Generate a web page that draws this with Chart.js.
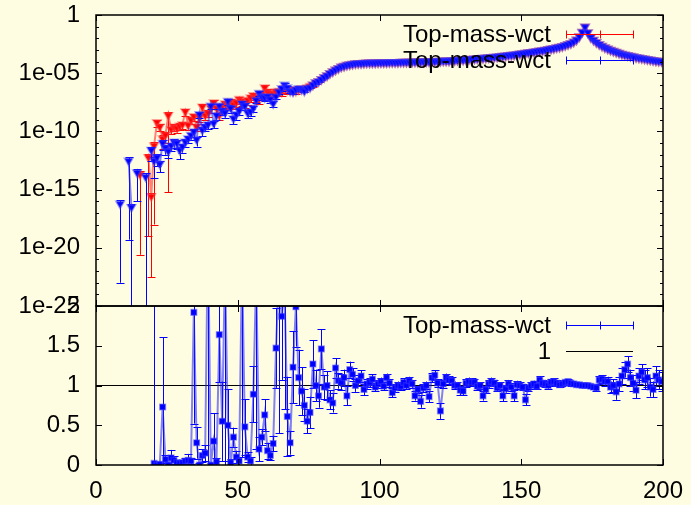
<!DOCTYPE html>
<html>
<head>
<meta charset="utf-8">
<title>Top-mass-wct</title>
<script src="https://cdn.jsdelivr.net/npm/chart.js@4.4.1/dist/chart.umd.min.js"></script>
<style>
  html, body { margin: 0; padding: 0; background: #fffde1; }
  canvas { display: block; }
</style>
</head>
<body>
<canvas id="massChart" width="691" height="505"></canvas>
<script>
// --- values ---
// bin centres (1 GeV bins)
const massX = [
  8.5, 9.5, 10.5, 11.5, 12.5, 13.5, 14.5, 15.5, 16.5, 17.5,
  18.5, 19.5, 20.5, 21.5, 22.5, 23.5, 24.5, 25.5, 26.5, 27.5,
  28.5, 29.5, 30.5, 31.5, 32.5, 33.5, 34.5, 35.5, 36.5, 37.5,
  38.5, 39.5, 40.5, 41.5, 42.5, 43.5, 44.5, 45.5, 46.5, 47.5,
  48.5, 49.5, 50.5, 51.5, 52.5, 53.5, 54.5, 55.5, 56.5, 57.5,
  58.5, 59.5, 60.5, 61.5, 62.5, 63.5, 64.5, 65.5, 66.5, 67.5,
  68.5, 69.5, 70.5, 71.5, 72.5, 73.5, 74.5, 75.5, 76.5, 77.5,
  78.5, 79.5, 80.5,
  81.5, 82.5, 83.5, 84.5, 85.5, 86.5, 87.5, 88.5, 89.5, 90.5,
  91.5, 92.5, 93.5, 94.5, 95.5, 96.5, 97.5, 98.5, 99.5, 100.5,
  101.5, 102.5, 103.5, 104.5, 105.5, 106.5, 107.5, 108.5, 109.5, 110.5,
  111.5, 112.5, 113.5, 114.5, 115.5, 116.5, 117.5, 118.5, 119.5, 120.5,
  121.5, 122.5, 123.5, 124.5, 125.5, 126.5, 127.5, 128.5, 129.5, 130.5,
  131.5, 132.5, 133.5, 134.5, 135.5, 136.5, 137.5, 138.5, 139.5, 140.5,
  141.5, 142.5, 143.5, 144.5, 145.5, 146.5, 147.5, 148.5, 149.5, 150.5,
  151.5, 152.5, 153.5, 154.5, 155.5, 156.5, 157.5, 158.5, 159.5, 160.5,
  161.5, 162.5, 163.5, 164.5, 165.5, 166.5, 167.5, 168.5, 169.5, 170.5,
  171.5, 172.5, 173.5, 174.5, 175.5, 176.5, 177.5, 178.5, 179.5, 180.5,
  181.5, 182.5, 183.5, 184.5, 185.5, 186.5, 187.5, 188.5, 189.5, 190.5,
  191.5, 192.5, 193.5, 194.5, 195.5, 196.5, 197.5, 198.5, 199.5
];

// top panel, blue series
const blueTop = [
  6e-17, null, null, 3e-13, 3e-17, null, 3e-14, null, null, 1.3e-14,
  null, 2.5e-12, 3e-13, 6e-13, 1.6e-13, 1e-11, 4e-12, 2e-12, 6e-12, 1.3e-11,
  1e-11, 2.5e-12, 5e-12, 1.3e-11, 2.5e-11, 5e-11, 1e-10, 2e-11, 3e-9, 1.3e-10,
  2.5e-10, 4e-10, 1.6e-8, 5e-10, 2.5e-9, 1.6e-8, 6e-9, 4e-9, 4e-8, 1e-8,
  1.3e-9, 3e-9, 6e-9, 2.5e-8, 1.6e-8, 4e-9, 5e-9, 1e-8, 5e-8, 2e-7,
  1e-7, 8e-8, 1e-7, 6e-8, 2.5e-8, 1e-7, 2.5e-7, 5e-7, 1e-6, 6e-7,
  3e-7, 2.5e-7, 4e-7, 5e-7, 4e-7, 3e-7, 5e-7, 6e-7, 1e-6, 1.6e-6,
  2e-6, 3e-6, 4.5e-6,
  6.5e-6, 1e-5, 1.4e-5, 2e-5, 2.7e-5, 3.5e-5, 4.2e-5, 5e-5, 5.7e-5, 6.3e-5,
  6.7e-5, 7e-5, 7.3e-5, 7.6e-5, 7.8e-5, 7.9e-5, 8e-5, 8.1e-5, 8.2e-5, 8.3e-5,
  8.4e-5, 8.5e-5, 8.6e-5, 8.7e-5, 8.8e-5, 8.9e-5, 9e-5, 9.1e-5, 9.2e-5, 9.3e-5,
  9.4e-5, 9.5e-5, 9.65e-5, 9.8e-5, 9.9e-5, 1e-4, 1.02e-4, 1.05e-4, 1.07e-4, 1.1e-4,
  1.12e-4, 1.15e-4, 1.17e-4, 1.2e-4, 1.25e-4, 1.3e-4, 1.35e-4, 1.4e-4, 1.45e-4, 1.5e-4,
  1.57e-4, 1.65e-4, 1.72e-4, 1.8e-4, 1.9e-4, 2e-4, 2.1e-4, 2.2e-4, 2.35e-4, 2.5e-4,
  2.65e-4, 2.8e-4, 3e-4, 3.2e-4, 3.4e-4, 3.6e-4, 3.9e-4, 4.3e-4, 4.6e-4, 5e-4,
  5.4e-4, 5.9e-4, 6.4e-4, 6.9e-4, 7.6e-4, 8.3e-4, 9.1e-4, 1e-3, 1.12e-3, 1.26e-3,
  1.42e-3, 1.6e-3, 1.82e-3, 2.1e-3, 2.5e-3, 3e-3, 3.8e-3, 5e-3, 7.5e-3, 1.4e-2,
  3.5e-2, 0.1, 3.2e-2, 1.25e-2, 7e-3, 4.5e-3, 3e-3, 2.2e-3, 1.6e-3, 1.26e-3,
  1e-3, 8e-4, 6.5e-4, 5.4e-4, 4.5e-4, 3.8e-4, 3.4e-4, 3e-4, 2.7e-4, 2.4e-4,
  2.15e-4, 1.9e-4, 1.75e-4, 1.6e-4, 1.45e-4, 1.3e-4, 1.2e-4, 1.1e-4, 1.05e-4
];
// lower ends of the blue error bars (only where they show, up to 80.5)
const blueLow = [
  1e-23, null, null, 5e-20, 1e-30, null, 1e-16, null, null, 1e-30,
  null, 3e-13, 1e-14, 1e-13, 3e-14, 2.5e-12, 1e-12, 5e-13, 2e-12, 4e-12,
  3e-12, 4e-13, 1.5e-12, 5e-12, 1e-11, 2e-11, 3e-11, 5e-12, 1.5e-9, 4e-11,
  1e-10, 1.5e-10, 8e-9, 2e-10, 1e-9, 8e-9, 2.5e-9, 1.5e-9, 2e-8, 4e-9,
  4e-10, 1e-9, 2.5e-9, 1.2e-8, 7e-9, 1.5e-9, 2e-9, 5e-9, 2.5e-8, 1e-7,
  5e-8, 4e-8, 5e-8, 3e-8, 1.2e-8, 6e-8, 1.5e-7, 3e-7, 6e-7, 4e-7,
  2e-7, 1.6e-7, 2.8e-7, 3.5e-7, 3e-7, 2.2e-7, 4e-7, 5e-7, 8e-7, 1.3e-6,
  1.7e-6, 2.6e-6, 4e-6
];

// top panel, red series
const redTop = [
  null, null, null, null, null, null, null, 2e-14, null, null,
  6e-13, 2.5e-16, 6e-12, 6e-10, 2.5e-10, 2.5e-11, 5e-11, 2.5e-9, 1.6e-10, 2.5e-10,
  2e-10, 3e-10, 4e-10, 5e-9, 3.5e-10, 1e-9, 2e-9, 2.5e-10, 1.6e-9, 1.3e-8,
  2.5e-9, 4e-9, 1e-8, 3e-8, 1e-8, 2.5e-9, 1.3e-8, 2.5e-8, 2e-8, 3.5e-8,
  2e-8, 3e-8, 6e-8, 4e-8, 2.5e-8, 5e-8, 8e-8, 1.3e-7, 8e-8, 6e-8,
  1.6e-7, 6e-7, 2.5e-7, 2e-7, 1.6e-7, 2.5e-7, 3e-7, 2.5e-7, 5e-7, 4e-7,
  4e-7, 3e-7, 3e-7, 4e-7, 5e-7, 4e-7, 6e-7, 8e-7, 1e-6, 1.6e-6,
  2e-6, 3e-6, 4.5e-6,
  6.5e-6, 1e-5, 1.4e-5, 2e-5, 2.7e-5, 3.5e-5, 4.2e-5, 5e-5, 5.7e-5, 6.3e-5,
  6.7e-5, 7e-5, 7.3e-5, 7.6e-5, 7.8e-5, 7.9e-5, 8e-5, 8.1e-5, 8.2e-5, 8.3e-5,
  8.4e-5, 8.5e-5, 8.6e-5, 8.7e-5, 8.8e-5, 8.9e-5, 9e-5, 9.1e-5, 9.2e-5, 9.3e-5,
  9.4e-5, 9.5e-5, 9.65e-5, 9.8e-5, 9.9e-5, 1e-4, 1.02e-4, 1.05e-4, 1.07e-4, 1.1e-4,
  1.12e-4, 1.15e-4, 1.17e-4, 1.2e-4, 1.25e-4, 1.3e-4, 1.35e-4, 1.4e-4, 1.45e-4, 1.5e-4,
  1.57e-4, 1.65e-4, 1.72e-4, 1.8e-4, 1.9e-4, 2e-4, 2.1e-4, 2.2e-4, 2.35e-4, 2.5e-4,
  2.65e-4, 2.8e-4, 3e-4, 3.2e-4, 3.4e-4, 3.6e-4, 3.9e-4, 4.3e-4, 4.6e-4, 5e-4,
  5.4e-4, 5.9e-4, 6.4e-4, 6.9e-4, 7.6e-4, 8.3e-4, 9.1e-4, 1e-3, 1.12e-3, 1.26e-3,
  1.42e-3, 1.6e-3, 1.82e-3, 2.1e-3, 2.5e-3, 3e-3, 3.8e-3, 5e-3, 7.5e-3, 1.4e-2,
  3.5e-2, 0.1, 3.2e-2, 1.25e-2, 7e-3, 4.5e-3, 3e-3, 2.2e-3, 1.6e-3, 1.26e-3,
  1e-3, 8e-4, 6.5e-4, 5.4e-4, 4.5e-4, 3.8e-4, 3.4e-4, 3e-4, 2.7e-4, 2.4e-4,
  2.15e-4, 1.9e-4, 1.75e-4, 1.6e-4, 1.45e-4, 1.3e-4, 1.2e-4, 1.1e-4, 1.05e-4
];
const redLow = [
  null, null, null, null, null, null, null, 2.5e-21, null, null,
  1e-19, 3e-23, 1e-18, 2.5e-10, 1e-10, 3e-12, 1e-11, 6e-16, 6e-11, 1e-10,
  8e-11, 1.2e-10, 1.6e-10, 2e-9, 1.4e-10, 4e-10, 8e-10, 1e-10, 6e-10, 5e-9,
  1e-9, 1.6e-9, 4e-9, 1.2e-8, 4e-9, 1e-9, 5e-9, 1e-8, 8e-9, 1.4e-8,
  8e-9, 1.2e-8, 2.4e-8, 1.6e-8, 1e-8, 2e-8, 3.2e-8, 5e-8, 3.2e-8, 2.4e-8,
  6e-8, 2.4e-7, 1e-7, 8e-8, 6e-8, 1e-7, 1.2e-7, 1e-7, 2e-7, 1.6e-7,
  2e-7, 1.5e-7, 1.5e-7, 2.4e-7, 3e-7, 2.4e-7, 4e-7, 5.5e-7, 7e-7, 1.2e-6,
  1.6e-6, 2.5e-6, 4e-6
];

// bottom panel, ratio and its error
const ratioVals = [
  null, null, null, null, null, null, null, null, null, null,
  null, null, 0.02, 0.0, 0.01, 0.73, 0.07, 0.0, 0.09, 0.06,
  0.03, 0.02, 0.03, 0.05, 0.06, 0.05, 1.92, 0.28, 0.0, 0.12,
  0.15, 3.0, 0.0, 0.3, 0.04, 1.64, 0.55, 2.5, 0.5, 0.03,
  0.35, 0.1, 0.05, 2.6, 0.48, 0.1, 0.05, 0.89, 2.4, 0.2,
  0.35, 0.63, 0.18, 0.12, 0.27, 1.47, 2.4, 1.87, 2.2, 0.61,
  0.28, 1.23, 1.99, 1.1, 0.93, 0.75, 0.55, 0.66, 1.27, 1.0,
  0.87, 1.46, 0.98,
  1.0, 0.82, 0.78, 1.22, 1.06, 1.04, 1.1, 0.87, 1.2, 1.14,
  1.0, 1.06, 1.12, 0.95, 1.02, 1.04, 1.08, 0.98, 1.02, 1.05,
  0.99, 1.1, 1.03, 0.91, 0.97, 1.0, 0.99, 1.04, 1.0, 1.06,
  1.02, 0.87, 0.95, 0.8, 0.97, 1.0, 0.86, 1.1, 1.13, 1.03,
  0.68, 1.02, 1.1, 1.07, 1.06, 1.0, 1.0, 0.94, 0.93, 1.03,
  1.05, 1.04, 1.04, 0.99, 1.0, 0.87, 0.95, 1.02, 1.05, 1.03,
  0.97, 1.0, 0.87, 0.96, 1.02, 0.98, 0.87, 1.01, 1.0, 0.98,
  0.82, 0.97, 1.0, 1.02, 0.99, 1.07, 1.03, 1.02, 1.0, 1.04,
  1.05, 1.03, 1.01, 1.02, 1.04, 1.05, 1.03, 1.02, 1.01, 1.01,
  1.0, 1.0, 1.0, 0.99, 0.98, 0.97, 1.07, 1.08, 1.05, 1.05,
  0.98, 1.0, 0.92, 1.02, 1.12, 1.2, 1.27, 1.1, 1.03, 0.94,
  1.12, 1.17, 1.07, 1.1, 0.98, 0.95, 1.12, 1.07, 1.05
];
const ratioErr = [
  null, null, null, null, null, null, null, null, null, null,
  null, null, 2.5, 0.04, 0.03, 0.88, 0.05, 0.03, 0.1, 0.05,
  0.03, 0.03, 0.03, 0.04, 0.08, 0.04, 1.4, 0.2, 0.03, 0.08,
  0.1, 3.0, 0.03, 0.35, 0.05, 0.6, 0.5, 2.5, 0.45, 0.04,
  0.12, 0.08, 0.05, 2.5, 0.35, 0.06, 0.05, 0.35, 2.2, 0.15,
  0.1, 0.2, 0.1, 0.06, 0.1, 0.5, 2.0, 0.8, 1.5, 0.5,
  0.15, 0.45, 0.5, 0.35, 0.3, 0.2, 0.15, 0.2, 0.3, 0.2,
  0.15, 0.25, 0.15,
  0.18, 0.12, 0.12, 0.12, 0.1, 0.1, 0.1, 0.12, 0.1, 0.08,
  0.08, 0.07, 0.07, 0.07, 0.06, 0.06, 0.06, 0.05, 0.05, 0.05,
  0.05, 0.05, 0.05, 0.06, 0.05, 0.05, 0.05, 0.05, 0.05, 0.05,
  0.05, 0.06, 0.05, 0.08, 0.05, 0.05, 0.07, 0.06, 0.06, 0.05,
  0.1, 0.05, 0.05, 0.05, 0.05, 0.05, 0.04, 0.06, 0.05, 0.05,
  0.05, 0.05, 0.04, 0.05, 0.04, 0.06, 0.05, 0.05, 0.05, 0.04,
  0.04, 0.04, 0.07, 0.05, 0.05, 0.05, 0.07, 0.05, 0.04, 0.04,
  0.07, 0.04, 0.04, 0.04, 0.04, 0.05, 0.04, 0.04, 0.04, 0.04,
  0.04, 0.04, 0.03, 0.03, 0.03, 0.03, 0.03, 0.03, 0.02, 0.02,
  0.02, 0.02, 0.02, 0.02, 0.03, 0.04, 0.05, 0.05, 0.06, 0.06,
  0.07, 0.08, 0.1, 0.09, 0.1, 0.1, 0.1, 0.1, 0.1, 0.1,
  0.1, 0.1, 0.12, 0.12, 0.12, 0.1, 0.12, 0.12, 0.12
];

// reference line "1"
const unityX = [0, 200];
const unityY = [1, 1];

// axes
const massTicks = [0, 50, 100, 150, 200];
const massTickLabels = ['0', '50', '100', '150', '200'];
const topTicks = [1e-25, 1e-20, 1e-15, 1e-10, 1e-5, 1];
const topTickLabels = ['1e-25', '1e-20', '1e-15', '1e-10', '1e-05', '1'];
const ratioTicks = [0, 0.5, 1, 1.5, 2];
const ratioTickLabels = ['0', '0.5', '1', '1.5', '2'];
const seriesName = 'Top-mass-wct';
const unityName = '1';

// --- helpers ---
const FONT = '"Liberation Sans", Arial, sans-serif';

function toPoints(xs, ys) {
  return ys.map((v, i) => ({ x: xs[i], y: v }));
}
// gnuplot style symmetric y errors: upper end mirrors the lower end
function barsFromLow(vals, lows) {
  return vals.map((v, i) => (v == null || lows[i] == null) ? null : [lows[i], 2 * v - lows[i]]);
}
function barsFromErr(vals, errs) {
  return vals.map((v, i) => (v == null || errs[i] == null) ? null : [v - errs[i], v + errs[i]]);
}
function labelFor(ticks, labels, value, isLog) {
  const idx = ticks.findIndex(t => isLog ? Math.abs(Math.log10(t) - Math.log10(value)) < 1e-6 : Math.abs(t - value) < 1e-9);
  return idx >= 0 ? labels[idx] : '';
}
// tick label padding must not shrink the plot area
function fixVertical(s) {
  s.width = 96;
  s.paddingTop = 0;
  s.paddingBottom = 0;
}
function fixHorizontal(s) {
  s.height = 40;
  s.paddingLeft = 0;
  s.paddingRight = 0;
}

// --- clipping per panel + error bars + frame/ticks/keys ---
const panelPlugin = {
  id: 'panelPlugin',
  beforeDatasetDraw(chart, args) {
    const meta = args.meta;
    const xs = meta.xScale, ys = meta.yScale;
    const ctx = chart.ctx;
    ctx.save();
    ctx.beginPath();
    ctx.rect(xs.left, ys.top, xs.right - xs.left, ys.bottom - ys.top);
    ctx.clip();

    const ds = chart.data.datasets[args.index];
    if (!ds.errBars) return;
    ctx.strokeStyle = ds.errColor;
    ctx.lineWidth = 1;
    ds.errBars.forEach((b, i) => {
      if (!b) return;
      const px = Math.round(xs.getPixelForValue(ds.data[i].x)) + 0.5;
      const lo = b[0], hi = b[1];
      let yLo, yHi;
      if (ys.type === 'logarithmic') {
        yLo = lo > 0 ? ys.getPixelForValue(lo) : ys.bottom + 20;
        yHi = ys.getPixelForValue(hi);
      } else {
        yLo = ys.getPixelForValue(lo);
        yHi = ys.getPixelForValue(hi);
      }
      ctx.beginPath();
      ctx.moveTo(px, yLo);
      ctx.lineTo(px, yHi);
      ctx.moveTo(px - 4, Math.round(yLo) + 0.5);
      ctx.lineTo(px + 4, Math.round(yLo) + 0.5);
      ctx.moveTo(px - 4, Math.round(yHi) + 0.5);
      ctx.lineTo(px + 4, Math.round(yHi) + 0.5);
      ctx.stroke();
    });
  },
  afterDatasetDraw(chart) {
    chart.ctx.restore();
  },
  afterDraw(chart) {
    const ctx = chart.ctx;
    const xs = chart.scales.x;
    const yt = chart.scales.yTop;
    const yb = chart.scales.yBot;
    ctx.save();
    ctx.strokeStyle = '#000';

    // inward ticks, mirrored on all sides
    ctx.lineWidth = 1;
    ctx.beginPath();
    massTicks.forEach(t => {
      const px = Math.round(xs.getPixelForValue(t)) + 0.5;
      [[yt.top, 6], [yt.bottom, -6], [yb.top, 6], [yb.bottom, -6]].forEach(([y, d]) => {
        ctx.moveTo(px, y);
        ctx.lineTo(px, y + d);
      });
    });
    for (let e = -25; e <= 0; e++) {
      const py = Math.round(yt.getPixelForValue(Math.pow(10, e))) + 0.5;
      const len = (e % 5 === 0) ? 6 : 3;
      ctx.moveTo(xs.left, py); ctx.lineTo(xs.left + len, py);
      ctx.moveTo(xs.right, py); ctx.lineTo(xs.right - len, py);
    }
    ratioTicks.forEach(t => {
      const py = Math.round(yb.getPixelForValue(t)) + 0.5;
      ctx.moveTo(xs.left, py); ctx.lineTo(xs.left + 6, py);
      ctx.moveTo(xs.right, py); ctx.lineTo(xs.right - 6, py);
    });
    ctx.stroke();

    // panel frames
    ctx.lineWidth = 1.5;
    ctx.strokeRect(xs.left, yt.top, xs.right - xs.left, yt.bottom - yt.top);
    ctx.strokeRect(xs.left, yb.top, xs.right - xs.left, yb.bottom - yb.top);

    // keys
    const textRight = xs.right - 112;
    const sx0 = xs.right - 97, sx1 = xs.right - 30;
    const sxm = (sx0 + sx1) / 2;
    ctx.font = '24px ' + FONT;
    ctx.textAlign = 'right';
    ctx.textBaseline = 'middle';
    const keyRow = (y, label, color, caps) => {
      ctx.fillStyle = '#000';
      ctx.fillText(label, textRight, y + 1);
      ctx.strokeStyle = color;
      ctx.lineWidth = 1;
      ctx.beginPath();
      ctx.moveTo(sx0, y); ctx.lineTo(sx1, y);
      if (caps) {
        [sx0, sxm, sx1].forEach(x => {
          ctx.moveTo(Math.round(x) + 0.5, y - 4);
          ctx.lineTo(Math.round(x) + 0.5, y + 4);
        });
      }
      ctx.stroke();
    };
    keyRow(Math.round(yt.top + 19) + 0.5, seriesName, '#ff0000', true);
    keyRow(Math.round(yt.top + 45) + 0.5, seriesName, '#0000ff', true);
    keyRow(Math.round(yb.top + 19) + 0.5, seriesName, '#0000ff', true);
    keyRow(Math.round(yb.top + 45) + 0.5, unityName, '#000000', false);
    ctx.restore();
  }
};

const blueData = toPoints(massX, blueTop);
const redData = toPoints(massX, redTop);
const ratioData = toPoints(massX, ratioVals);
const unityData = toPoints(unityX, unityY);

new Chart(document.getElementById('massChart'), {
  type: 'line',
  data: {
    datasets: [
      {
        label: seriesName,
        data: blueData,
        yAxisID: 'yTop',
        borderColor: 'rgba(30,30,255,0.55)',
        borderWidth: 2,
        pointStyle: 'triangle',
        rotation: 180,
        pointRadius: 4.5,
        pointBackgroundColor: '#0000ff',
        pointBorderColor: 'rgba(60,60,255,0.45)',
        pointBorderWidth: 2,
        errBars: barsFromLow(blueTop, blueLow),
        errColor: '#0000ff'
      },
      {
        label: seriesName,
        data: redData,
        yAxisID: 'yTop',
        borderColor: 'rgba(255,30,30,0.55)',
        borderWidth: 2,
        pointStyle: 'triangle',
        rotation: 180,
        pointRadius: 4.5,
        pointBackgroundColor: '#ff0000',
        pointBorderColor: 'rgba(255,60,60,0.45)',
        pointBorderWidth: 2,
        errBars: barsFromLow(redTop, redLow),
        errColor: '#ff0000'
      },
      {
        label: seriesName,
        data: ratioData,
        yAxisID: 'yBot',
        borderColor: 'rgba(30,30,255,0.55)',
        borderWidth: 2,
        pointStyle: 'rect',
        pointRadius: 4,
        pointBackgroundColor: '#0000ff',
        pointBorderColor: 'rgba(60,60,255,0.45)',
        pointBorderWidth: 1.5,
        errBars: barsFromErr(ratioVals, ratioErr),
        errColor: '#0000ff'
      },
      {
        label: unityName,
        data: unityData,
        yAxisID: 'yBot',
        borderColor: '#000000',
        borderWidth: 1,
        pointRadius: 0
      }
    ]
  },
  options: {
    responsive: false,
    animation: false,
    layout: { padding: { top: 15, right: 28, left: 0, bottom: 0 } },
    plugins: {
      legend: { display: false },
      tooltip: { enabled: false }
    },
    elements: { line: { tension: 0 } },
    scales: {
      x: {
        type: 'linear',
        min: 0,
        max: 200,
        grid: { display: false, drawTicks: false },
        border: { display: false },
        afterBuildTicks: s => { s.ticks = massTicks.map(v => ({ value: v })); },
        afterFit: fixHorizontal,
        ticks: {
          autoSkip: false,
          maxRotation: 0,
          padding: 12,
          color: '#000',
          font: { family: FONT, size: 24 },
          callback: v => labelFor(massTicks, massTickLabels, v, false)
        }
      },
      yTop: {
        type: 'logarithmic',
        position: 'left',
        stack: 'panels',
        stackWeight: 291,
        weight: 2,
        offset: false,
        min: 1e-25,
        max: 1,
        grid: { display: false, drawTicks: false },
        border: { display: false },
        afterBuildTicks: s => { s.ticks = topTicks.map(v => ({ value: v })); },
        afterFit: fixVertical,
        ticks: {
          autoSkip: false,
          padding: 16,
          color: '#000',
          font: { family: FONT, size: 24 },
          callback: v => labelFor(topTicks, topTickLabels, v, true)
        }
      },
      yBot: {
        type: 'linear',
        position: 'left',
        stack: 'panels',
        stackWeight: 159,
        weight: 1,
        offset: false,
        min: 0,
        max: 2,
        grid: { display: false, drawTicks: false },
        border: { display: false },
        afterBuildTicks: s => { s.ticks = ratioTicks.map(v => ({ value: v })); },
        afterFit: fixVertical,
        ticks: {
          autoSkip: false,
          padding: 16,
          color: '#000',
          font: { family: FONT, size: 24 },
          callback: v => labelFor(ratioTicks, ratioTickLabels, v, false)
        }
      }
    }
  },
  plugins: [panelPlugin]
});
</script>
</body>
</html>
